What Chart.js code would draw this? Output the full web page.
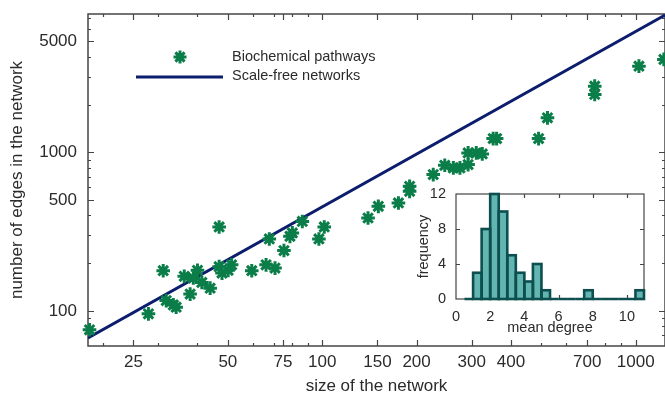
<!DOCTYPE html>
<html><head><meta charset="utf-8">
<script src="https://cdn.jsdelivr.net/npm/chart.js@4/dist/chart.umd.min.js"></script>
<style>
html,body{margin:0;padding:0;background:#fff;}
#wrap{position:relative;width:665px;height:396px;overflow:hidden;}
#main{position:absolute;left:0;top:0;}
#inset{position:absolute;left:400px;top:184px;}
</style></head><body>
<div id="wrap">
<canvas id="main" width="665" height="396"></canvas>
<canvas id="inset" width="260" height="152"></canvas>
</div>
<script>
// ---- data ----
const networkSizes = [18.1, 27.9, 31.1, 31.8, 33.5, 34.2, 36.3, 37.9, 40.0, 38.8, 41.3, 43.9, 46.9, 46.9, 47.9, 50.1, 51.4, 59.6, 66.2, 67.8, 70.7, 75.5, 78.9, 80.3, 86.4, 97.6, 101.5, 140, 151, 175, 190, 190, 226, 246, 262, 275, 292, 292, 310, 324, 351, 360, 490, 523, 740, 740, 1024, 1230];
const edgeCounts   = [75.9, 95.7, 179, 116, 109, 105.5, 165, 127.5, 180, 161, 151, 139, 338, 190, 173, 180, 195, 179, 195, 284, 186, 240, 295, 310, 366, 284, 338, 385, 456, 479, 610, 567, 723, 828, 797, 797, 836, 991, 991, 977, 1220, 1220, 1220, 1649, 2612, 2315, 3494, 3852];
const fitSizes = [17.9, 1240];
const fitEdges = [67.5, 7330];
const xTickValues = [20,25,30,40,50,60,70,75,80,90,100,150,200,300,400,500,600,700,800,900,1000];
const xTickLabels = [25,50,75,100,150,200,300,400,700,1000];
const yTickValues = [70,80,90,100,200,300,400,500,600,700,800,900,1000,2000,3000,4000,5000,6000,7000];
const yTickLabels = [100,500,1000,5000];
const degreeBins = [0.75,1.25,1.75,2.25,2.75,3.25,3.75,4.25,4.75,5.25,5.75,6.25,6.75,7.25,7.75,8.25,8.75,9.25,9.75,10.25,10.75];
const degreeFreq = [0,3,8,12,10,5,3,2,4,1,0,0,0,0,1,0,0,0,0,0,1];
const seriesNames = ['Biochemical pathways','Scale-free networks'];

// ---- style ----
const GREEN = '#0a7d48';
const NAVY = '#0b1d6c';
const AX = '#454545';
const TXT = '#2b2b2b';
const FAM = '"Liberation Sans", Arial, Helvetica, sans-serif';
const BARFILL = '#62b5b1';
const BAREDGE = '#0d4e4f';

function starPath(ctx, x, y, r){
  ctx.beginPath();
  ctx.moveTo(x-r,y); ctx.lineTo(x+r,y);
  ctx.moveTo(x,y-r); ctx.lineTo(x,y+r);
  const d = r*Math.SQRT1_2;
  ctx.moveTo(x-d,y-d); ctx.lineTo(x+d,y+d);
  ctx.moveTo(x-d,y+d); ctx.lineTo(x+d,y-d);
  ctx.stroke();
}
function noPadH(s, h){ s.height = h; s.paddingLeft = 0; s.paddingRight = 0; }
function noPadV(s, w){ s.width = w; s.paddingTop = 0; s.paddingBottom = 0; }

const mainFrame = {
  id:'mainFrame',
  beforeDatasetsDraw(chart){
    const {ctx, chartArea:{left,right,top,bottom}, scales:{x,y}} = chart;
    ctx.save();
    ctx.strokeStyle = AX; ctx.lineWidth = 1.2;
    ctx.beginPath();
    xTickValues.forEach(v=>{
      const px = Math.round(x.getPixelForValue(v))+0.5;
      const L = xTickLabels.includes(v) ? 6 : 3;
      ctx.moveTo(px,bottom); ctx.lineTo(px,bottom-L);
      ctx.moveTo(px,top); ctx.lineTo(px,top+L);
    });
    yTickValues.forEach(v=>{
      const py = Math.round(y.getPixelForValue(v))+0.5;
      const L = yTickLabels.includes(v) ? 6 : 3;
      ctx.moveTo(left,py); ctx.lineTo(left+L,py);
      ctx.moveTo(right,py); ctx.lineTo(right-L,py);
    });
    ctx.stroke();
    ctx.lineWidth = 1.5;
    ctx.strokeRect(left,top,right-left,bottom-top);
    ctx.restore();
  },
  afterDraw(chart){
    const ctx = chart.ctx;
    ctx.save();
    ctx.strokeStyle = GREEN; ctx.lineWidth = 3; ctx.lineCap='butt';
    starPath(ctx, 180, 57, 6.5);
    ctx.strokeStyle = NAVY; ctx.lineWidth = 3;
    ctx.beginPath(); ctx.moveTo(136,77); ctx.lineTo(223,77); ctx.stroke();
    ctx.fillStyle = TXT; ctx.font = '14.5px '+FAM; ctx.textBaseline='middle'; ctx.textAlign='left';
    ctx.fillText(seriesNames[0], 232, 57);
    ctx.fillText(seriesNames[1], 232, 76);
    ctx.restore();
  }
};

new Chart(document.getElementById('main'), {
  type:'scatter',
  data:{datasets:[
    {label:seriesNames[0], data:networkSizes.map((v,i)=>({x:v,y:edgeCounts[i]})),
     pointStyle:'star', pointRadius:6.8, pointHoverRadius:6.8, borderColor:GREEN, backgroundColor:GREEN,
     pointBorderWidth:3, borderWidth:3, clip:false, order:1},
    {label:seriesNames[1], type:'line', data:fitSizes.map((v,i)=>({x:v,y:fitEdges[i]})),
     borderColor:NAVY, borderWidth:3, pointRadius:0, fill:false, tension:0, order:2}
  ]},
  options:{
    responsive:false, animation:false, devicePixelRatio:1,
    layout:{autoPadding:false, padding:{top:14,right:0,left:0,bottom:0}},
    plugins:{legend:{display:false}, tooltip:{enabled:false}},
    scales:{
      x:{type:'logarithmic', position:'bottom', min:17.9, max:1240,
        afterBuildTicks:s=>{ s.ticks = xTickValues.map(v=>({value:v})); },
        afterFit:s=>noPadH(s,50),
        ticks:{autoSkip:false, maxRotation:0, minRotation:0, padding:6, color:TXT, font:{family:FAM,size:17},
          callback:(v)=> xTickLabels.includes(v) ? String(v) : ''},
        grid:{display:false, drawTicks:false},
        border:{display:false},
        title:{display:true, text:'size of the network', color:TXT, font:{family:FAM,size:17,lineHeight:1.1}, padding:{top:0,bottom:0}}
      },
      y:{type:'logarithmic', position:'left', min:60, max:7450,
        afterBuildTicks:s=>{ s.ticks = yTickValues.map(v=>({value:v})); },
        afterFit:s=>noPadV(s,88),
        ticks:{autoSkip:false, padding:11, color:TXT, font:{family:FAM,size:17},
          callback:(v)=> yTickLabels.includes(v) ? String(v) : ''},
        grid:{display:false, drawTicks:false},
        border:{display:false},
        title:{display:true, text:'number of edges in the network', color:TXT, font:{family:FAM,size:17,lineHeight:1.1}, padding:{top:8,bottom:0}}
      }
    }
  },
  plugins:[mainFrame]
});

const insetFrame = {
  id:'insetFrame',
  beforeDatasetsDraw(chart){
    const {ctx, chartArea:{left,right,top,bottom}} = chart;
    ctx.save(); ctx.fillStyle='#fff'; ctx.fillRect(left,top,right-left,bottom-top); ctx.restore();
  },
  afterDatasetsDraw(chart){
    const {ctx, chartArea:{left,right,top,bottom}, scales:{x,y}} = chart;
    ctx.save();
    ctx.strokeStyle = AX; ctx.lineWidth = 1.2;
    ctx.strokeRect(left,top,right-left,bottom-top);
    ctx.beginPath();
    [2,4,6,8,10].forEach(v=>{
      const px = Math.round(x.getPixelForValue(v))+0.5;
      ctx.moveTo(px,bottom); ctx.lineTo(px,bottom-4);
      ctx.moveTo(px,top); ctx.lineTo(px,top+4);
    });
    [4,8].forEach(v=>{
      const py = Math.round(y.getPixelForValue(v))+0.5;
      ctx.moveTo(left,py); ctx.lineTo(left+4,py);
      ctx.moveTo(right,py); ctx.lineTo(right-4,py);
    });
    ctx.stroke();
    ctx.strokeStyle = BAREDGE; ctx.lineWidth = 2.6; ctx.lineJoin='miter';
    chart.getDatasetMeta(0).data.forEach(el=>{
      const w = el.width, h = el.base - el.y;
      ctx.strokeRect(el.x - w/2, el.y, w, h);
    });
    ctx.restore();
  }
};

new Chart(document.getElementById('inset'), {
  type:'bar',
  data:{datasets:[{label:'frequency', data:degreeBins.map((v,i)=>({x:v,y:degreeFreq[i]})),
    backgroundColor:BARFILL, borderWidth:0, barPercentage:1, categoryPercentage:1}]},
  options:{
    responsive:false, animation:false, devicePixelRatio:1,
    layout:{autoPadding:false, padding:{top:10,right:16,left:0,bottom:0}},
    plugins:{legend:{display:false}, tooltip:{enabled:false}},
    scales:{
      x:{type:'linear', min:0, max:11, offset:false,
        afterBuildTicks:s=>{ s.ticks=[0,2,4,6,8,10].map(v=>({value:v})); },
        afterFit:s=>noPadH(s,37),
        ticks:{autoSkip:false, maxRotation:0, padding:9, color:TXT, font:{family:FAM,size:14.5}},
        grid:{display:false, drawTicks:false}, border:{display:false},
        title:{display:true, text:'mean degree', color:TXT, font:{family:FAM,size:14.5,lineHeight:1.0}, padding:{top:0,bottom:1}}
      },
      y:{type:'linear', min:0, max:12,
        afterBuildTicks:s=>{ s.ticks=[0,4,8,12].map(v=>({value:v})); },
        afterFit:s=>noPadV(s,56),
        ticks:{autoSkip:false, padding:10, color:TXT, font:{family:FAM,size:14.5}},
        grid:{display:false, drawTicks:false}, border:{display:false},
        title:{display:true, text:'frequency', color:TXT, font:{family:FAM,size:14.5,lineHeight:1.0}, padding:{top:17,bottom:0}}
      }
    }
  },
  plugins:[insetFrame]
});
</script>
</body></html>
